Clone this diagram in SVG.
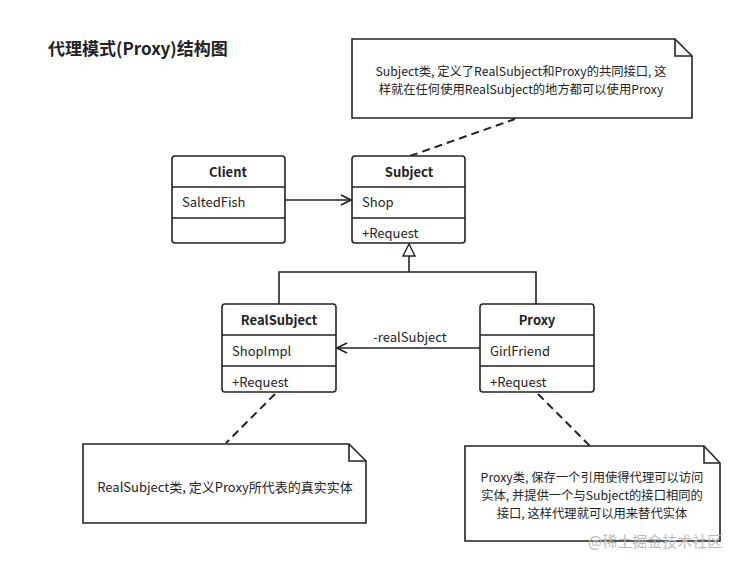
<svg xmlns="http://www.w3.org/2000/svg" width="745" height="566" viewBox="0 0 745 566">
<defs>
<style>
text{font-family:"Noto Sans CJK SC","Noto Sans",sans-serif;font-size:13px;fill:#222}
.n{font-size:12.3px}
.b{font-weight:bold}
.box{fill:#fff;stroke:#222;stroke-width:1.6}
.ln{fill:none;stroke:#222;stroke-width:1.6}
.d{fill:none;stroke:#222;stroke-width:2;stroke-dasharray:8,5}
</style>
<marker id="open" markerWidth="12" markerHeight="12" refX="11" refY="6" orient="auto" markerUnits="userSpaceOnUse"><path d="M1,1 L11,6 L1,11" fill="none" stroke="#222" stroke-width="1.6"/></marker>
<marker id="tri" markerWidth="14" markerHeight="14" refX="13" refY="7" orient="auto" markerUnits="userSpaceOnUse"><path d="M1,1 L13,7 L1,13 Z" fill="#fff" stroke="#222" stroke-width="1.4"/></marker>
</defs>
<rect width="745" height="566" fill="#fff"/>
<text x="48" y="55" class="b" style="font-size:17px">代理模式(Proxy)结构图</text>

<g id="connectors">
<path class="d" d="M410,156 L515,119"/>
<path class="d" d="M275,394 L226,443"/>
<path class="d" d="M538,394 L590,446"/>
<path class="ln" d="M285,200 L351,200" marker-end="url(#open)"/>
<path class="ln" d="M279,304 V272 H536 V304 M409,272 V244" marker-end="url(#tri)"/>
<path class="ln" d="M480,348 L337,348" marker-end="url(#open)"/>
<text x="410" y="342" text-anchor="middle">-realSubject</text>
</g>

<g id="note-subject">
<path class="box" d="M352,39 H675 L692,56 V118 H352 Z"/><path class="ln" d="M675,39 V56 H692"/>
<text x="521" y="76" text-anchor="middle" class="n">Subject类, 定义了RealSubject和Proxy的共同接口, 这</text>
<text x="521" y="94" text-anchor="middle" class="n">样就在任何使用RealSubject的地方都可以使用Proxy</text>
</g>

<g id="client">
<rect class="box" x="172" y="156" width="113" height="87" rx="3"/>
<path class="ln" d="M172,187 H285 M172,218 H285"/>
<text x="228" y="177" text-anchor="middle" class="b">Client</text>
<text x="182" y="207">SaltedFish</text>
</g>

<g id="subject">
<rect class="box" x="352" y="156" width="113" height="87" rx="3"/>
<path class="ln" d="M352,187 H465 M352,218 H465"/>
<text x="409" y="177" text-anchor="middle" class="b">Subject</text>
<text x="362" y="207">Shop</text>
<text x="362" y="238">+Request</text>
</g>

<g id="realsubject">
<rect class="box" x="222" y="304" width="114" height="88" rx="3"/>
<path class="ln" d="M222,335 H336 M222,366 H336"/>
<text x="279" y="325" text-anchor="middle" class="b">RealSubject</text>
<text x="232" y="356">ShopImpl</text>
<text x="232" y="387">+Request</text>
</g>

<g id="proxy">
<rect class="box" x="480" y="304" width="114" height="88" rx="3"/>
<path class="ln" d="M480,335 H594 M480,366 H594"/>
<text x="537" y="325" text-anchor="middle" class="b">Proxy</text>
<text x="490" y="356">GirlFriend</text>
<text x="490" y="387">+Request</text>
</g>

<g id="note-real">
<path class="box" d="M83,444 H349 L366,461 V523 H83 Z"/><path class="ln" d="M349,444 V461 H366"/>
<text x="225" y="492" text-anchor="middle">RealSubject类, 定义Proxy所代表的真实实体</text>
</g>

<g id="note-proxy">
<path class="box" d="M465,446 H704 L720,463 V541 H465 Z"/><path class="ln" d="M704,446 V463 H720"/>
<text x="592" y="482" text-anchor="middle" class="n">Proxy类, 保存一个引用使得代理可以访问</text>
<text x="592" y="500" text-anchor="middle" class="n">实体, 并提供一个与Subject的接口相同的</text>
<text x="592" y="518" text-anchor="middle" class="n">接口, 这样代理就可以用来替代实体</text>
</g>
<text x="588" y="547" style="font-size:15px;fill:#bbb">@稀土掘金技术社区</text>
</svg>
